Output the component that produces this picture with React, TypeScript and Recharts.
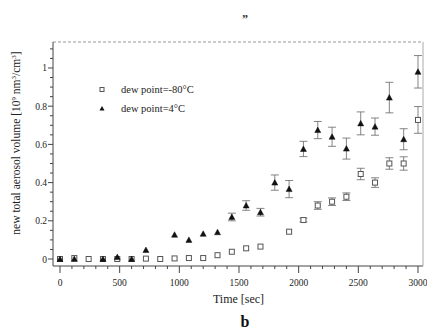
import React from "react";
import {
  ScatterChart,
  Scatter,
  XAxis,
  YAxis,
  ErrorBar,
  Legend,
} from "recharts";

const times = [0, 120, 240, 360, 480, 600, 720, 840, 960, 1080, 1200, 1320, 1440, 1560, 1680, 1800, 1920, 2040, 2160, 2280, 2400, 2520, 2640, 2760, 2880, 3000];
const dryVals: (number | null)[] = [0, 0.005, 0, 0, 0, 0, 0.002, 0, 0.003, 0.005, 0.005, 0.02, 0.038, 0.056, 0.065, null, 0.143, 0.204, 0.28, 0.3, 0.326, 0.445, 0.4, 0.5, 0.5, 0.728];
const dryErr = [0, 0, 0, 0, 0, 0, 0, 0, 0, 0, 0, 0, 0, 0, 0, 0, 0, 0.01, 0.02, 0.02, 0.02, 0.03, 0.025, 0.03, 0.035, 0.07];
const wetVals: (number | null)[] = [0, 0, null, 0, 0.01, 0, 0.047, null, 0.127, 0.1, 0.132, 0.14, 0.22, 0.28, 0.245, 0.4, 0.366, 0.576, 0.675, 0.64, 0.578, 0.71, 0.693, 0.845, 0.627, 0.98];
const wetErr = [0, 0, 0, 0, 0, 0, 0, 0, 0, 0, 0, 0, 0.02, 0.025, 0.02, 0.04, 0.045, 0.04, 0.045, 0.05, 0.055, 0.06, 0.045, 0.08, 0.055, 0.085];

const xTicks = [0, 100, 200, 300, 400, 500, 600, 700, 800, 900, 1000, 1100, 1200, 1300, 1400, 1500, 1600, 1700, 1800, 1900, 2000, 2100, 2200, 2300, 2400, 2500, 2600, 2700, 2800, 2900, 3000];
const xMajor = [0, 500, 1000, 1500, 2000, 2500, 3000];
const yTicks = [0, 0.05, 0.1, 0.15, 0.2, 0.25, 0.3, 0.35, 0.4, 0.45, 0.5, 0.55, 0.6, 0.65, 0.7, 0.75, 0.8, 0.85, 0.9, 0.95, 1, 1.05, 1.1];
const yMajor = [0, 0.2, 0.4, 0.6, 0.8, 1];
const yMajorLabels = ["0", "0.2", "0.4", "0.6", "0.8", "1"];

const seriesNames = ["dew point=-80°C", "dew point=4°C"];

const dryData = times
  .map((t, i) => ({ t, v: dryVals[i], err: dryErr[i] }))
  .filter((d) => d.v !== null);
const wetData = times
  .map((t, i) => ({ t, v: wetVals[i], err: wetErr[i] }))
  .filter((d) => d.v !== null);

const FONT = "'Liberation Serif', 'DejaVu Serif', serif";
const AXIS = "#444";

const SquareShape = (props: any) => {
  const { cx, cy } = props;
  if (cx == null || cy == null) return null;
  return <rect x={cx - 2.5} y={cy - 2.5} width={5} height={5} fill="#fff" stroke="#555" strokeWidth={1} />;
};

const TriShape = (props: any) => {
  const { cx, cy } = props;
  if (cx == null || cy == null) return null;
  return <polygon points={`${cx},${cy - 3} ${cx - 3},${cy + 2.5} ${cx + 3},${cy + 2.5}`} fill="#111" stroke="#111" strokeWidth={0.5} />;
};

const XTick = (props: any) => {
  const { x, y, payload } = props;
  const v = payload.value;
  const major = xMajor.indexOf(v) >= 0;
  return (
    <g>
      <line x1={x} y1={y} x2={x} y2={y + (major ? 7 : 3)} stroke={AXIS} strokeWidth={1} />
      {major && (
        <text x={x} y={y + 20} textAnchor="middle" fontSize={9.5} fontFamily={FONT} fill="#222">
          {String(v)}
        </text>
      )}
    </g>
  );
};

const YTick = (props: any) => {
  const { x, y, payload } = props;
  const v = payload.value;
  const idx = yMajor.findIndex((m) => Math.abs(m - v) < 1e-6);
  const major = idx >= 0;
  return (
    <g>
      <line x1={x - (major ? 5 : 3)} y1={y} x2={x} y2={y} stroke={AXIS} strokeWidth={1} />
      {major && (
        <text x={x - 6} y={y + 3.5} textAnchor="end" fontSize={9.5} fontFamily={FONT} fill="#222">
          {yMajorLabels[idx]}
        </text>
      )}
    </g>
  );
};

const LegendContent = () => (
  <div style={{ fontFamily: FONT, fontSize: 10.5, color: "#222", lineHeight: "19px" }}>
    <div style={{ display: "flex", alignItems: "center" }}>
      <svg width={14} height={19} style={{ marginRight: 12 }}>
        <rect x={5} y={7.5} width={4} height={4} fill="#fff" stroke="#555" />
      </svg>
      <span>{seriesNames[0]}</span>
    </div>
    <div style={{ display: "flex", alignItems: "center" }}>
      <svg width={14} height={19} style={{ marginRight: 12 }}>
        <polygon points="7,7 4.5,11.5 9.5,11.5" fill="#111" />
      </svg>
      <span>{seriesNames[1]}</span>
    </div>
  </div>
);

export default function App() {
  return (
    <div style={{ position: "absolute", left: 0, top: 0, width: 427, height: 334, background: "#fff" }}>
      <ScatterChart width={427} height={334} margin={{ top: 41, right: 3, bottom: 67, left: 52 }}>
        <XAxis
          type="number"
          dataKey="t"
          xAxisId="b"
          domain={[-58.7, 3042]}
          ticks={xTicks}
          interval={0}
          height={1}
          tickSize={0}
          tickMargin={0}
          tickLine={false}
          tick={<XTick />}
          axisLine={{ stroke: AXIS, strokeWidth: 1 }}
          allowDataOverflow
        />
        <XAxis
          type="number"
          dataKey="t"
          xAxisId="top"
          orientation="top"
          domain={[-58.7, 3042]}
          height={1}
          tick={false}
          tickLine={false}
          axisLine={{ stroke: "#999", strokeWidth: 1, strokeDasharray: "3 2" }}
        />
        <YAxis
          type="number"
          dataKey="v"
          yAxisId="l"
          domain={[-0.0366, 1.136]}
          ticks={yTicks}
          interval={0}
          width={1}
          tickSize={0}
          tickMargin={0}
          tickLine={false}
          tick={<YTick />}
          axisLine={{ stroke: AXIS, strokeWidth: 1 }}
          allowDataOverflow
        />
        <YAxis
          type="number"
          dataKey="v"
          yAxisId="r"
          orientation="right"
          domain={[-0.0366, 1.136]}
          width={1}
          tick={false}
          tickLine={false}
          axisLine={{ stroke: "#aaa", strokeWidth: 1 }}
        />
        <Legend
          layout="horizontal"
          verticalAlign="middle"
          align="center"
          content={<LegendContent />}
          wrapperStyle={{ position: "absolute", left: 95, top: 79.5, width: 140 }}
        />
        <Scatter
          name={seriesNames[0]}
          data={dryData}
          xAxisId="b"
          yAxisId="l"
          shape={<SquareShape />}
          isAnimationActive={false}
        >
          <ErrorBar dataKey="err" direction="y" width={4} stroke="#666" strokeWidth={0.8} />
        </Scatter>
        <Scatter
          name={seriesNames[1]}
          data={wetData}
          xAxisId="b"
          yAxisId="l"
          shape={<TriShape />}
          isAnimationActive={false}
        >
          <ErrorBar dataKey="err" direction="y" width={4} stroke="#666" strokeWidth={0.8} />
        </Scatter>
      </ScatterChart>
      <div style={{ position: "absolute", left: 0, top: 12, width: 490, textAlign: "center", fontFamily: FONT, fontWeight: "bold", fontSize: 12, color: "#333" }}>
        {"\u201D"}
      </div>
      <div style={{ position: "absolute", left: 0, top: 292, width: 477, textAlign: "center", fontFamily: FONT, fontSize: 12, color: "#222" }}>
        Time [sec]
      </div>
      <div style={{ position: "absolute", left: 0, top: 313, width: 490, textAlign: "center", fontFamily: FONT, fontWeight: "bold", fontSize: 16, color: "#111" }}>
        b
      </div>
      <svg style={{ position: "absolute", left: 0, top: 0, pointerEvents: "none" }} width={40} height={334}>
        <text
          transform="translate(20,143) rotate(-90)"
          textAnchor="middle"
          fontFamily={FONT}
          fontSize={11.5}
          fill="#222"
        >
          new total aerosol volume [10
          <tspan dy={-4} fontSize={7}>9</tspan>
          <tspan dy={4}> nm</tspan>
          <tspan dy={-4} fontSize={7}>3</tspan>
          <tspan dy={4}>/cm</tspan>
          <tspan dy={-4} fontSize={7}>3</tspan>
          <tspan dy={4}>]</tspan>
        </text>
      </svg>
    </div>
  );
}
